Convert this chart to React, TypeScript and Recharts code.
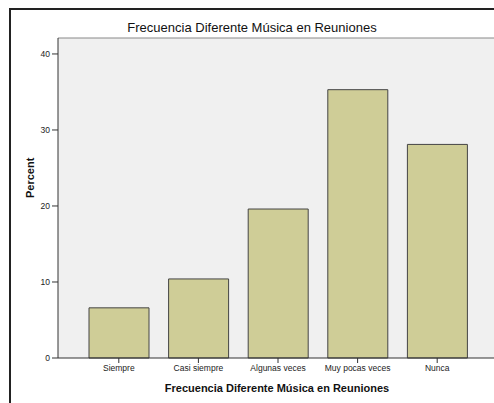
import { BarChart, Bar, XAxis, YAxis, CartesianGrid, ReferenceLine } from 'recharts'

const categories = ['Siempre', 'Casi siempre', 'Algunas veces', 'Muy pocas veces', 'Nunca']
const percents = [6.6, 10.4, 19.6, 35.3, 28.1]
const yTicks = [0, 10, 20, 30, 40]

const data = categories.map((name, i) => ({ name, percent: percents[i] }))

const font = 'Arial, "Liberation Sans", sans-serif'

export default function App() {
  return (
    <div style={{ position: 'absolute', left: 0, top: 0, width: 494, height: 403, overflow: 'hidden', background: '#fff', fontFamily: font }}>
      <div style={{ position: 'absolute', left: 9, top: 8, width: 520, height: 420, border: '2px solid #222', boxSizing: 'border-box' }} />
      <div style={{ position: 'absolute', left: 0, width: 504, top: 20, textAlign: 'center', fontSize: 13, color: '#111' }}>
        Frecuencia Diferente Música en Reuniones
      </div>
      <div style={{ position: 'absolute', left: 0, top: 0 }}>
        <BarChart width={520} height={420} data={data} margin={{ top: 38, right: 22, left: 0, bottom: 22 }}>
          <CartesianGrid fill="#f0f0f0" horizontal={false} vertical={false} />
          <ReferenceLine y={42.1} stroke="#888" strokeWidth={1} />
          <XAxis
            dataKey="name"
            height={40}
            padding={{ left: 21, right: 21 }}
            stroke="#333"
            tickLine={{ stroke: '#333' }}
            tickSize={5}
            tick={{ fontSize: 8.5, fill: '#222', fontFamily: font }}
            interval={0}
            label={{ value: 'Frecuencia Diferente Música en Reuniones', position: 'insideBottom', offset: 6, dx: -1, fontSize: 11, fontWeight: 'bold', fill: '#111', fontFamily: font }}
          />
          <YAxis
            domain={[0, 42.1]}
            ticks={yTicks}
            width={58}
            stroke="#333"
            tickLine={{ stroke: '#333' }}
            tickSize={6}
            tick={{ fontSize: 8.5, fill: '#222', fontFamily: font }}
            label={{ value: 'Percent', angle: -90, position: 'insideLeft', offset: 30, fontSize: 11, fontWeight: 'bold', fill: '#111', fontFamily: font }}
          />
          <Bar dataKey="percent" barSize={60} fill="#cfcd97" stroke="#444" strokeWidth={1} isAnimationActive={false} />
        </BarChart>
      </div>
    </div>
  )
}
